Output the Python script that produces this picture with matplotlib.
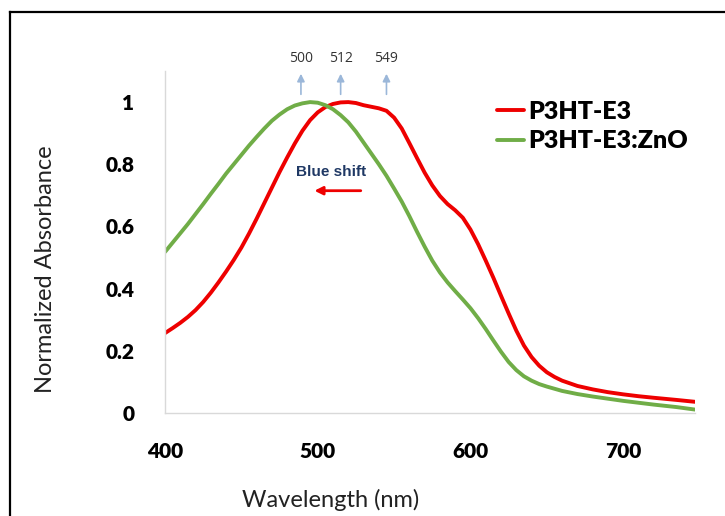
import matplotlib
matplotlib.use("Agg")
import matplotlib.pyplot as plt
from matplotlib.lines import Line2D

# absorbance spectra (normalized)
wl_p3ht = [400, 405, 410, 415, 420, 425, 430, 435, 440, 445, 450, 455, 460, 465, 470, 475,
           480, 485, 490, 495, 500, 505, 510, 515, 520, 525, 530, 535, 540, 545, 550, 555,
           560, 565, 570, 575, 580, 585, 590, 595, 600, 605, 610, 615, 620, 625, 630, 635,
           640, 645, 650, 655, 660, 670, 680, 690, 700, 710, 720, 735, 747]
abs_p3ht = [0.257, 0.273, 0.29, 0.309, 0.331, 0.357, 0.387, 0.42, 0.455, 0.492, 0.532, 0.577,
            0.625, 0.675, 0.725, 0.775, 0.822, 0.867, 0.908, 0.942, 0.967, 0.984, 0.994, 0.999,
            1.0, 0.997, 0.99, 0.985, 0.98, 0.972, 0.95, 0.915, 0.868, 0.82, 0.773, 0.732, 0.698,
            0.672, 0.652, 0.628, 0.59, 0.543, 0.49, 0.435, 0.377, 0.32, 0.265, 0.217, 0.18, 0.152,
            0.131, 0.116, 0.104, 0.087, 0.076, 0.067, 0.06, 0.054, 0.049, 0.042, 0.036]

wl_zno = [400, 405, 410, 415, 420, 425, 430, 435, 440, 445, 450, 455, 460, 465, 470, 475,
          480, 485, 490, 495, 500, 505, 510, 515, 520, 525, 530, 535, 540, 545, 550, 555,
          560, 565, 570, 575, 580, 585, 590, 595, 600, 605, 610, 615, 620, 625, 630, 635,
          640, 645, 650, 660, 670, 680, 690, 700, 710, 720, 735, 747]
abs_zno = [0.518, 0.548, 0.578, 0.608, 0.64, 0.672, 0.705, 0.737, 0.77, 0.80, 0.83, 0.86,
           0.888, 0.915, 0.94, 0.96, 0.977, 0.989, 0.996, 1.0, 0.998, 0.99, 0.977, 0.958, 0.935,
           0.905, 0.87, 0.835, 0.80, 0.763, 0.722, 0.68, 0.633, 0.583, 0.535, 0.49, 0.452, 0.42,
           0.392, 0.365, 0.337, 0.305, 0.27, 0.233, 0.197, 0.164, 0.138, 0.118, 0.104, 0.093,
           0.085, 0.071, 0.061, 0.053, 0.046, 0.039, 0.033, 0.027, 0.019, 0.011]

series_names = ["P3HT-E3", "P3HT-E3:ZnO"]
series_colors = ["#EE0000", "#70AD47"]

peak_labels = ["500", "512", "549"]
peak_arrow_x = [489, 515, 545]

x_ticks = [400, 500, 600, 700]
y_ticks = [0, 0.2, 0.4, 0.6, 0.8, 1]
y_tick_labels = ["0", "0.2", "0.4", "0.6", "0.8", "1"]

fig = plt.figure(figsize=(7.25, 5.16), dpi=100)
ax = fig.add_axes([165 / 725, 103 / 516, 530 / 725, 342 / 516])

ax.plot(wl_p3ht, abs_p3ht, color=series_colors[0], lw=2.8, label=series_names[0], solid_capstyle="round")
ax.plot(wl_zno, abs_zno, color=series_colors[1], lw=2.8, label=series_names[1], solid_capstyle="round")

ax.set_xlim(400, 747)
ax.set_ylim(0, 1.1)
ax.set_xticks(x_ticks)
ax.set_yticks(y_ticks)
ax.set_yticklabels(y_tick_labels)
ax.tick_params(length=0, labelsize=15)
ax.tick_params(axis="x", pad=21)
ax.tick_params(axis="y", pad=22)
for lab in ax.get_xticklabels() + ax.get_yticklabels():
    lab.set_fontfamily("Lato")
    lab.set_fontweight("heavy")

for s in ["top", "right"]:
    ax.spines[s].set_visible(False)
for s in ["left", "bottom"]:
    ax.spines[s].set_color("#D9D9D9")
    ax.spines[s].set_linewidth(1.0)

ax.set_xlabel("Wavelength (nm)", fontsize=17, family="Lato", color="#222222")
ax.xaxis.set_label_coords(0.313, -0.222)
ax.set_ylabel("Normalized Absorbance", fontsize=17, family="Lato", color="#222222")
ax.yaxis.set_label_coords(-0.205, 0.42)

leg = ax.legend(loc="upper left", bbox_to_anchor=(0.607, 0.942), frameon=False, handlelength=1.1,
                handletextpad=0.15, labelspacing=0.3, borderaxespad=0,
                prop={"family": "Lato", "weight": "heavy", "size": 18})

# peak markers above the curves
for lab, px in zip(peak_labels, peak_arrow_x):
    ax.annotate("", xy=(px, 1.1), xytext=(px, 1.016), xycoords="data", annotation_clip=False,
                arrowprops=dict(arrowstyle="-|>", color="#9BB7D9", lw=1.2, mutation_scale=11))
    ax.text(px, 1.115, lab, ha="center", va="bottom", fontsize=10, family="Open Sans",
            color="#333333", clip_on=False)

ax.text(509, 0.775, "Blue shift", ha="center", va="center", fontsize=11, fontweight="bold",
        family="Liberation Sans", color="#1F3864")
ax.annotate("", xy=(496, 0.715), xytext=(530, 0.715),
            arrowprops=dict(arrowstyle="-|>", color="#EE0000", lw=2.0, mutation_scale=12))

# outer frame
fig.add_artist(Line2D([10 / 725, 10 / 725], [0, 1 - 12 / 516], color="black", lw=1.6))
fig.add_artist(Line2D([10 / 725, 1], [1 - 12 / 516, 1 - 12 / 516], color="black", lw=1.6))

fig.savefig("out.png", dpi=100)
